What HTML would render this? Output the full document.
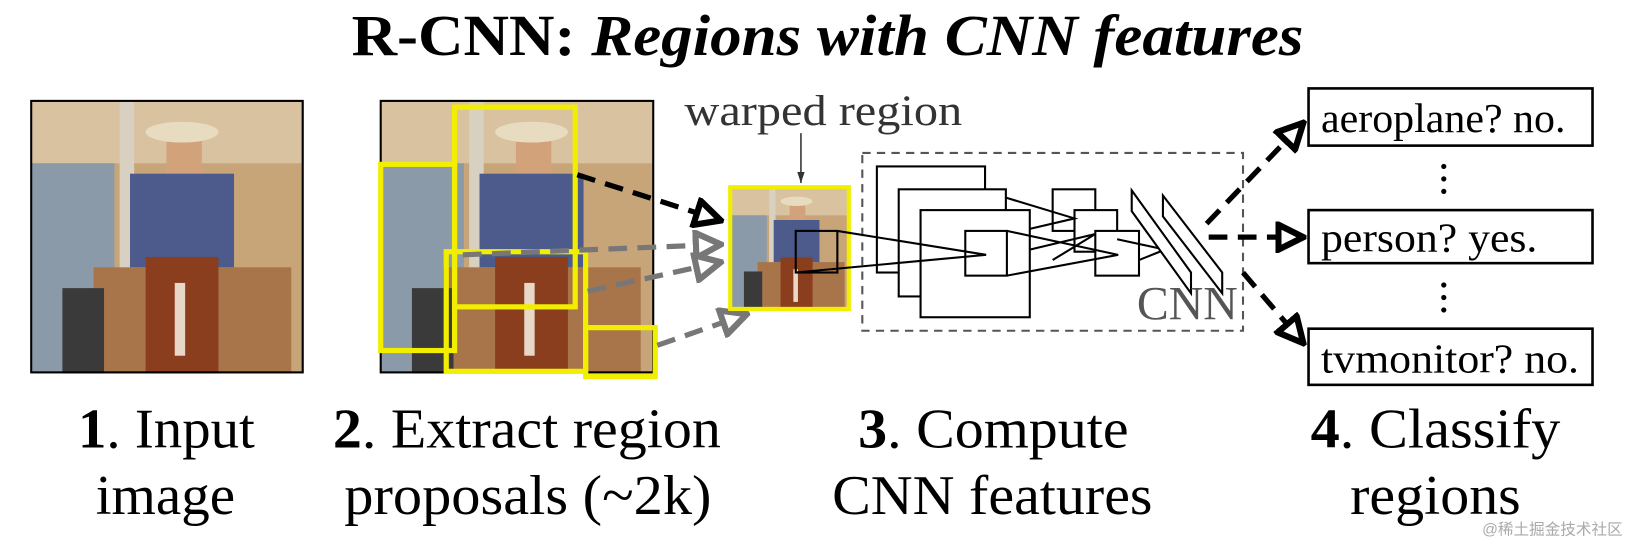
<!DOCTYPE html>
<html><head><meta charset="utf-8"><style>
html,body{margin:0;padding:0;background:#fff;overflow:hidden}
svg{display:block}
text{font-family:"Liberation Serif",serif}
</style></head><body>
<svg width="1631" height="544" viewBox="0 0 1568 523" preserveAspectRatio="none" xmlns="http://www.w3.org/2000/svg">
<defs>
<g id="photo">
<rect x="0" y="0" width="262" height="262" fill="#c8a578"/>
<rect x="0" y="0" width="262" height="60" fill="#d9c2a0"/>
<rect x="0" y="60" width="80" height="200" fill="#8b9aa8"/>
<rect x="85" y="0" width="14" height="262" fill="#d8d0c0"/>
<rect x="130" y="30" width="34" height="40" fill="#d2a27a"/>
<ellipse cx="145" cy="30" rx="35" ry="10" fill="#e8dcc0"/>
<rect x="95" y="70" width="100" height="90" fill="#4c5a8c"/>
<rect x="60" y="160" width="190" height="102" fill="#a8744a"/>
<rect x="110" y="150" width="70" height="112" fill="#8a3e1e"/>
<rect x="138" y="175" width="10" height="70" fill="#e8d8c8"/>
<rect x="30" y="180" width="40" height="82" fill="#3a3a3a"/>
</g>
<marker id="hb" viewBox="0 0 10 10" refX="9" refY="5" markerWidth="6" markerHeight="6" orient="auto"><path d="M1,1 L9,5 L1,9 Z" fill="#fff" stroke="#000" stroke-width="2"/></marker>
<marker id="hg" viewBox="0 0 10 10" refX="9" refY="5" markerWidth="6" markerHeight="6" orient="auto"><path d="M1,1 L9,5 L1,9 Z" fill="#fff" stroke="#777" stroke-width="2"/></marker>
<marker id="hs" viewBox="0 0 10 10" refX="9" refY="5" markerWidth="8" markerHeight="8" orient="auto"><path d="M0,2 L9,5 L0,8 Z" fill="#333"/></marker>
</defs>

<text x="338" y="53" font-size="56" font-weight="bold" textLength="915" lengthAdjust="spacingAndGlyphs">R-CNN: <tspan font-style="italic">Regions with CNN features</tspan></text>

<g transform="translate(30,97)"><use href="#photo"/></g>
<rect x="30" y="97" width="261" height="261" fill="none" stroke="#000" stroke-width="2"/>

<g transform="translate(366,97)"><use href="#photo"/></g>
<rect x="366" y="97" width="262" height="261" fill="none" stroke="#000" stroke-width="2"/>
<g fill="none" stroke="#f2ee00" stroke-width="5">
<rect x="437" y="103" width="116" height="192"/>
<rect x="366" y="158" width="71" height="179"/>
<rect x="429" y="242" width="134" height="115"/>
<rect x="563" y="315" width="67" height="47"/>
</g>

<line x1="555" y1="168" x2="693" y2="212" stroke="#000" stroke-width="5" stroke-dasharray="18,10" marker-end="url(#hb)"/>
<line x1="445" y1="245" x2="693" y2="235" stroke="#777" stroke-width="5" stroke-dasharray="18,10" marker-end="url(#hg)"/>
<line x1="565" y1="280" x2="693" y2="252" stroke="#777" stroke-width="5" stroke-dasharray="18,10" marker-end="url(#hg)"/>
<line x1="632" y1="332" x2="718" y2="302" stroke="#777" stroke-width="5" stroke-dasharray="18,10" marker-end="url(#hg)"/>

<g transform="translate(702,180) scale(0.44,0.45)"><use href="#photo"/></g>
<rect x="702" y="180" width="114" height="117" fill="none" stroke="#f2ee00" stroke-width="4"/>
<rect x="765" y="222" width="40" height="40" fill="none" stroke="#000" stroke-width="2"/>
<text x="658" y="120" font-size="42" fill="#333" textLength="267" lengthAdjust="spacingAndGlyphs">warped region</text>
<line x1="770" y1="128" x2="770" y2="176" stroke="#333" stroke-width="1.5" marker-end="url(#hs)"/>

<rect x="829" y="147" width="366" height="171" fill="none" stroke="#555" stroke-width="2" stroke-dasharray="8,6"/>
<g fill="#fff" stroke="#000" stroke-width="2">
<rect x="843" y="160" width="104" height="102"/>
<rect x="864" y="182" width="103" height="103"/>
<rect x="885" y="202" width="105" height="103"/>
<rect x="928" y="222" width="40" height="43"/>
<rect x="1012" y="182" width="41" height="40"/>
<rect x="1033" y="202" width="41" height="40"/>
<rect x="1053" y="222" width="42" height="43"/>
</g>
<g stroke="#000" stroke-width="2" fill="none">
<polyline points="805,222 948,245 765,262"/>
<polyline points="968,222 1075,245 968,265"/>
<polyline points="967,190 1033,210 990,220"/>
<polyline points="990,240 1053,225 1012,250"/>
<polyline points="1095,250 1120,240 1074,230"/>
<polygon points="1088,183 1145,262 1145,282 1088,203" fill="#fff"/>
<polygon points="1118,188 1175,262 1175,282 1118,208" fill="#fff"/>
</g>
<text x="1093" y="307" font-size="46" fill="#555" textLength="97" lengthAdjust="spacingAndGlyphs">CNN</text>

<line x1="1160" y1="215" x2="1253" y2="118" stroke="#000" stroke-width="5" stroke-dasharray="18,10" marker-end="url(#hb)"/>
<line x1="1162" y1="228" x2="1253" y2="228" stroke="#000" stroke-width="5" stroke-dasharray="18,10" marker-end="url(#hb)"/>
<line x1="1195" y1="262" x2="1253" y2="330" stroke="#000" stroke-width="5" stroke-dasharray="18,10" marker-end="url(#hb)"/>

<g fill="#fff" stroke="#000" stroke-width="2.5">
<rect x="1258" y="85" width="273" height="55"/>
<rect x="1258" y="202" width="273" height="51"/>
<rect x="1258" y="316" width="273" height="54"/>
</g>
<g font-size="40">
<text x="1270" y="127" textLength="235" lengthAdjust="spacingAndGlyphs">aeroplane? no.</text>
<text x="1270" y="242" textLength="208" lengthAdjust="spacingAndGlyphs">person? yes.</text>
<text x="1270" y="358" textLength="248" lengthAdjust="spacingAndGlyphs">tvmonitor? no.</text>
</g>
<g fill="#000">
<circle cx="1388" cy="160" r="2.5"/><circle cx="1388" cy="172" r="2.5"/><circle cx="1388" cy="184" r="2.5"/>
<circle cx="1388" cy="274" r="2.5"/><circle cx="1388" cy="286" r="2.5"/><circle cx="1388" cy="298" r="2.5"/>
</g>

<g font-size="54" lengthAdjust="spacingAndGlyphs">
<text x="75" y="430" textLength="170" lengthAdjust="spacingAndGlyphs"><tspan font-weight="bold">1</tspan>. Input</text>
<text x="92" y="494" textLength="134" lengthAdjust="spacingAndGlyphs">image</text>
<text x="320" y="430" textLength="373" lengthAdjust="spacingAndGlyphs"><tspan font-weight="bold">2</tspan>. Extract region</text>
<text x="331" y="494" textLength="353" lengthAdjust="spacingAndGlyphs">proposals (~2k)</text>
<text x="825" y="430" textLength="260" lengthAdjust="spacingAndGlyphs"><tspan font-weight="bold">3</tspan>. Compute</text>
<text x="800" y="494" textLength="308" lengthAdjust="spacingAndGlyphs">CNN features</text>
<text x="1260" y="430" textLength="240" lengthAdjust="spacingAndGlyphs"><tspan font-weight="bold">4</tspan>. Classify</text>
<text x="1298" y="494" textLength="164" lengthAdjust="spacingAndGlyphs">regions</text>
</g>
<text x="1560" y="514" font-size="15" text-anchor="end" fill="#aaa" style="font-family:'Liberation Sans','Noto Sans CJK SC',sans-serif">@稀土掘金技术社区</text>
</svg>
</body></html>
